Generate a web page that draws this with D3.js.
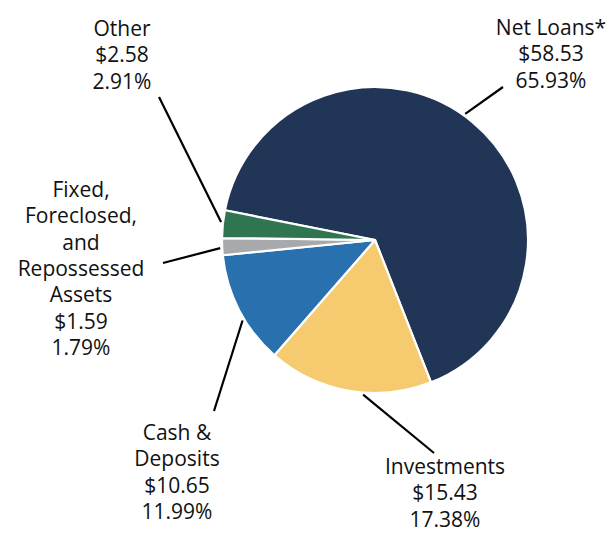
<!DOCTYPE html>
<html lang='en'>
<head>
   <meta charset='UTF-8'>
   <title>Asset mix pie</title>
   <script src='https://d3js.org/d3.v7.min.js'></script>
   <style>
      body { margin: 0; background: #fff; }
      text { font-family: 'Open Sans', sans-serif; font-size: 21px; fill: #111; }
   </style>
</head>
<body>
   <div id='chart'></div>
   <script>
      const categories = ['Net Loans*', 'Investments', 'Cash & Deposits', 'Fixed, Foreclosed, and Repossessed Assets', 'Other'];
      const amounts = [58.53, 15.43, 10.65, 1.59, 2.58];
      const percents = [65.93, 17.38, 11.99, 1.79, 2.91];
      const colours = ['#213556', '#f6cb6f', '#2870ae', '#a7a9ac', '#2f7650'];

      // label text broken into lines the way the original shows them
      const labelLines = [
         ['Net Loans*'],
         ['Investments'],
         ['Cash &', 'Deposits'],
         ['Fixed,', 'Foreclosed,', 'and', 'Repossessed', 'Assets'],
         ['Other']
      ];

      // layout: where each leader leaves the pie (deg), where it ends, where the text sits
      const layout = [
         { angle: 35.6, end: [503, 87], tx: 551, ty: 35 },
         { angle: 184.4, end: [434, 453], tx: 445, ty: 474 },
         { angle: 238.7, end: [214, 411], tx: 177, ty: 440 },
         { angle: 267, end: [163, 263], tx: 81, ty: 197 },
         { angle: 276.7, end: [159, 97], tx: 122, ty: 36 }
      ];

      const width = 615, height = 533;
      const cx = 375, cy = 240, radius = 153;
      const lineH = 26.3;

      const svg = d3.select('#chart').append('svg').attr('width', width).attr('height', height);
      const g = svg.append('g').attr('transform', `translate(${cx}, ${cy})`);

      const pie = d3.pie().sort(null).value(d => d)
         .startAngle(-78.8 * Math.PI / 180)
         .endAngle(-78.8 * Math.PI / 180 + 2 * Math.PI);
      const arc = d3.arc().innerRadius(0).outerRadius(radius);

      g.selectAll('path.slice').data(pie(amounts))
         .enter()
         .append('path')
         .attr('class', 'slice')
         .attr('d', arc)
         .attr('fill', (d, i) => colours[i])
         .attr('stroke', '#fff')
         .attr('stroke-width', 2.2)
         .attr('stroke-linejoin', 'round');

      // leader lines
      layout.forEach((l, i) => {
         const a = l.angle * Math.PI / 180;
         const r0 = radius + 2;
         g.append('line')
            .attr('x1', r0 * Math.sin(a))
            .attr('y1', -r0 * Math.cos(a))
            .attr('x2', l.end[0] - cx)
            .attr('y2', l.end[1] - cy)
            .attr('stroke', '#000')
            .attr('stroke-width', 2.2);
      });

      // labels
      categories.forEach((c, i) => {
         const l = layout[i];
         const lines = labelLines[i].concat(['$' + amounts[i].toFixed(2), percents[i].toFixed(2) + '%']);
         const t = svg.append('text').attr('text-anchor', 'middle');
         lines.forEach((s, j) => {
            t.append('tspan').attr('x', l.tx).attr('y', l.ty + j * lineH).text(s);
         });
      });
   </script>
</body>
</html>
